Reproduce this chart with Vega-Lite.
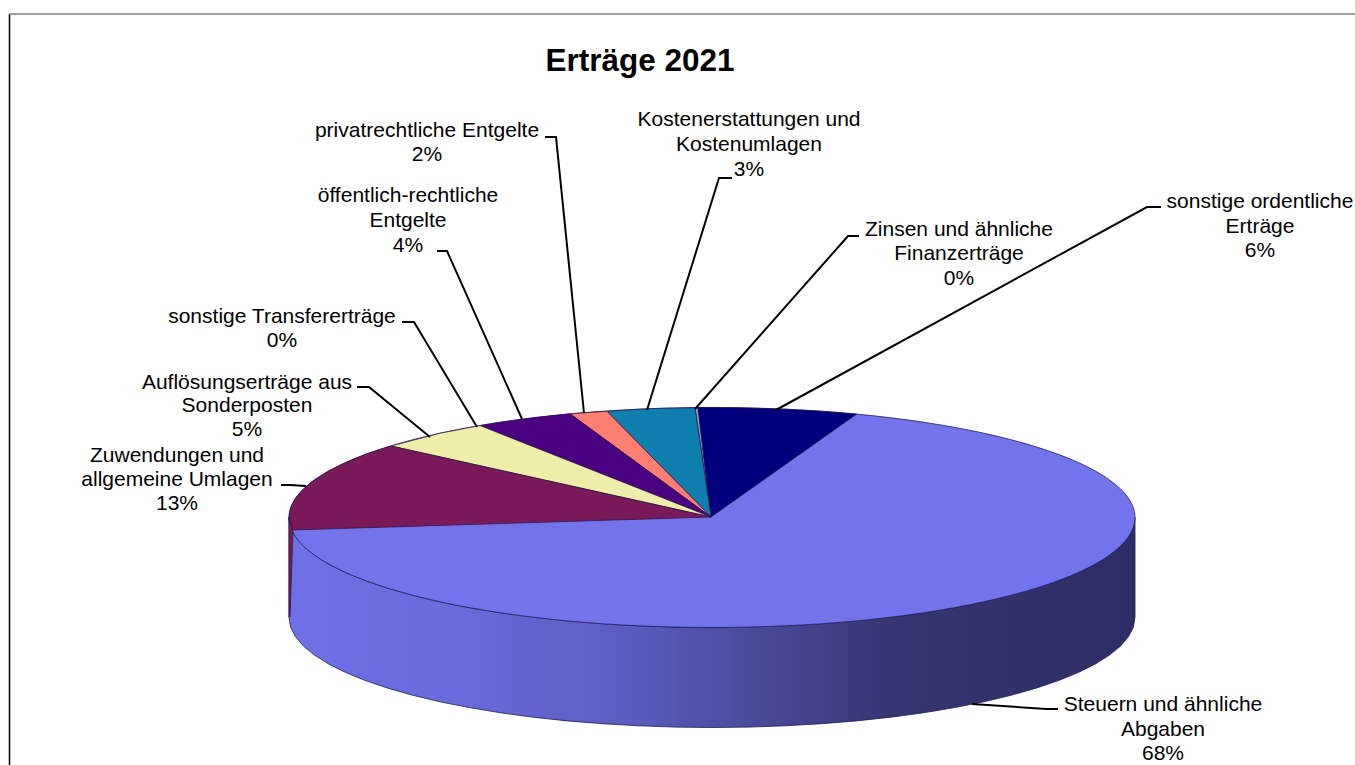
{
"$schema":"https://vega.github.io/schema/vega-lite/v6.json",
"width":1355,"height":765,"padding":0,"autosize":{"type":"none"},
"background":"white",
"config":{"view":{"stroke":null}},
"datasets":{
"side":[{"x":289,"y":517.5,"y2":617.5},{"x":290.6,"y":527.1,"y2":627.1},{"x":295.4,"y":536.6,"y2":636.6},{"x":303.4,"y":546,"y2":646},{"x":314.5,"y":555.1,"y2":655.1},{"x":328.6,"y":564,"y2":664},{"x":345.7,"y":572.5,"y2":672.5},{"x":365.5,"y":580.6,"y2":680.6},{"x":388,"y":588.2,"y2":688.2},{"x":412.9,"y":595.3,"y2":695.3},{"x":440.1,"y":601.8,"y2":701.8},{"x":469.4,"y":607.6,"y2":707.6},{"x":500.5,"y":612.8,"y2":712.8},{"x":533.2,"y":617.2,"y2":717.2},{"x":567.3,"y":620.9,"y2":720.9},{"x":602.5,"y":623.7,"y2":723.7},{"x":638.6,"y":625.8,"y2":725.8},{"x":675.1,"y":627.1,"y2":727.1},{"x":712,"y":627.5,"y2":727.5},{"x":748.9,"y":627.1,"y2":727.1},{"x":785.4,"y":625.8,"y2":725.8},{"x":821.5,"y":623.7,"y2":723.7},{"x":856.7,"y":620.9,"y2":720.9},{"x":890.8,"y":617.2,"y2":717.2},{"x":923.5,"y":612.8,"y2":712.8},{"x":954.6,"y":607.6,"y2":707.6},{"x":983.9,"y":601.8,"y2":701.8},{"x":1011.1,"y":595.3,"y2":695.3},{"x":1036,"y":588.2,"y2":688.2},{"x":1058.5,"y":580.6,"y2":680.6},{"x":1078.3,"y":572.5,"y2":672.5},{"x":1095.4,"y":564,"y2":664},{"x":1109.5,"y":555.1,"y2":655.1},{"x":1120.6,"y":546,"y2":646},{"x":1128.6,"y":536.6,"y2":636.6},{"x":1133.4,"y":527.1,"y2":627.1},{"x":1135,"y":517.5,"y2":617.5}],
"top":[{"i":0,"x":1135,"y":517.5},{"i":1,"x":1128.6,"y":498.4},{"i":2,"x":1109.5,"y":479.9},{"i":3,"x":1078.3,"y":462.5},{"i":4,"x":1036,"y":446.8},{"i":5,"x":983.9,"y":433.2},{"i":6,"x":923.5,"y":422.2},{"i":7,"x":856.7,"y":414.1},{"i":8,"x":785.4,"y":409.2},{"i":9,"x":712,"y":407.5},{"i":10,"x":638.6,"y":409.2},{"i":11,"x":567.3,"y":414.1},{"i":12,"x":500.5,"y":422.2},{"i":13,"x":440.1,"y":433.2},{"i":14,"x":388,"y":446.8},{"i":15,"x":345.7,"y":462.5},{"i":16,"x":314.5,"y":479.9},{"i":17,"x":295.4,"y":498.4},{"i":18,"x":289,"y":517.5},{"i":19,"x":295.4,"y":536.6},{"i":20,"x":314.5,"y":555.1},{"i":21,"x":345.7,"y":572.5},{"i":22,"x":388,"y":588.2},{"i":23,"x":440.1,"y":601.8},{"i":24,"x":500.5,"y":612.8},{"i":25,"x":567.3,"y":620.9},{"i":26,"x":638.6,"y":625.8},{"i":27,"x":712,"y":627.5},{"i":28,"x":785.4,"y":625.8},{"i":29,"x":856.7,"y":620.9},{"i":30,"x":923.5,"y":612.8},{"i":31,"x":983.9,"y":601.8},{"i":32,"x":1036,"y":588.2},{"i":33,"x":1078.3,"y":572.5},{"i":34,"x":1109.5,"y":555.1},{"i":35,"x":1128.6,"y":536.6}],
"slices":[
{"s":"Zinsen","i":0,"x":711,"y":517},{"s":"Zinsen","i":1,"x":698,"y":407.6},{"s":"Zinsen","i":2,"x":695,"y":407.8},{"s":"Zinsen","i":3,"x":711,"y":517},
{"s":"Ordentlich","i":0,"x":711,"y":517},{"s":"Ordentlich","i":1,"x":856.7,"y":414.1},{"s":"Ordentlich","i":2,"x":821,"y":411.2},{"s":"Ordentlich","i":3,"x":785.4,"y":409.2},{"s":"Ordentlich","i":4,"x":748,"y":408},{"s":"Ordentlich","i":5,"x":712,"y":407.5},{"s":"Ordentlich","i":6,"x":698,"y":407.6},{"s":"Ordentlich","i":7,"x":711,"y":517},
{"s":"Kosten","i":0,"x":711,"y":517},{"s":"Kosten","i":1,"x":695,"y":407.8},{"s":"Kosten","i":2,"x":660,"y":408.3},{"s":"Kosten","i":3,"x":638.6,"y":409.2},{"s":"Kosten","i":4,"x":607,"y":411.3},{"s":"Kosten","i":5,"x":711,"y":517},
{"s":"Privat","i":0,"x":711,"y":517},{"s":"Privat","i":1,"x":607,"y":411.3},{"s":"Privat","i":2,"x":570,"y":413.8},{"s":"Privat","i":3,"x":711,"y":517},
{"s":"Oeffentlich","i":0,"x":711,"y":517},{"s":"Oeffentlich","i":1,"x":570,"y":413.8},{"s":"Oeffentlich","i":2,"x":535,"y":417.6},{"s":"Oeffentlich","i":3,"x":500.5,"y":422.2},{"s":"Oeffentlich","i":4,"x":480,"y":425.6},{"s":"Oeffentlich","i":5,"x":711,"y":517},
{"s":"Aufloesung","i":0,"x":711,"y":517},{"s":"Aufloesung","i":1,"x":480,"y":425.6},{"s":"Aufloesung","i":2,"x":440.1,"y":433.2},{"s":"Aufloesung","i":3,"x":391,"y":446},{"s":"Aufloesung","i":4,"x":711,"y":517},
{"s":"Zuwendungen","i":0,"x":711,"y":517},{"s":"Zuwendungen","i":1,"x":391,"y":446},{"s":"Zuwendungen","i":2,"x":366,"y":454},{"s":"Zuwendungen","i":3,"x":345.7,"y":462.5},{"s":"Zuwendungen","i":4,"x":328.6,"y":471},{"s":"Zuwendungen","i":5,"x":314.5,"y":479.9},{"s":"Zuwendungen","i":6,"x":303.4,"y":489},{"s":"Zuwendungen","i":7,"x":295.4,"y":498.4},{"s":"Zuwendungen","i":8,"x":290.6,"y":507.9},{"s":"Zuwendungen","i":9,"x":289,"y":517.5},{"s":"Zuwendungen","i":10,"x":290,"y":524},{"s":"Zuwendungen","i":11,"x":293,"y":530},{"s":"Zuwendungen","i":12,"x":711,"y":517},
{"s":"ZuwendungenSide","i":0,"x":289,"y":517.5},{"s":"ZuwendungenSide","i":1,"x":289,"y":617},{"s":"ZuwendungenSide","i":2,"x":290,"y":617},{"s":"ZuwendungenSide","i":3,"x":293,"y":530},{"s":"ZuwendungenSide","i":4,"x":289,"y":517.5}
],
"leaders":[
{"k":"a","i":0,"x":776,"y":410},{"k":"a","i":1,"x":1147,"y":207},{"k":"a","i":2,"x":1161,"y":207},
{"k":"b","i":0,"x":695,"y":409},{"k":"b","i":1,"x":848,"y":236},{"k":"b","i":2,"x":859,"y":236},
{"k":"c","i":0,"x":647,"y":410},{"k":"c","i":1,"x":719,"y":178},{"k":"c","i":2,"x":732,"y":178},
{"k":"d","i":0,"x":584,"y":413},{"k":"d","i":1,"x":556,"y":137},{"k":"d","i":2,"x":545,"y":137},
{"k":"e","i":0,"x":522,"y":419},{"k":"e","i":1,"x":447,"y":251},{"k":"e","i":2,"x":437,"y":251},
{"k":"f","i":0,"x":477,"y":427},{"k":"f","i":1,"x":414,"y":322},{"k":"f","i":2,"x":402,"y":322},
{"k":"g","i":0,"x":430,"y":437},{"k":"g","i":1,"x":369,"y":387},{"k":"g","i":2,"x":357,"y":387},
{"k":"h","i":0,"x":306,"y":486},{"k":"h","i":1,"x":290,"y":485},{"k":"h","i":2,"x":281,"y":485},
{"k":"i","i":0,"x":972,"y":704},{"k":"i","i":1,"x":1046,"y":709},{"k":"i","i":2,"x":1058,"y":709}
],
"frame":[{"k":"left","i":0,"x":9.5,"y":765},{"k":"left","i":1,"x":9.5,"y":14},{"k":"top","i":0,"x":9,"y":14},{"k":"top","i":1,"x":1355,"y":14}],
"labels":[
{"t":"privatrechtliche Entgelte","x":427,"y":131},{"t":"2%","x":427,"y":155},
{"t":"Kostenerstattungen und","x":749,"y":120},{"t":"Kostenumlagen","x":749,"y":145},{"t":"3%","x":749,"y":170},
{"t":"Zinsen und ähnliche","x":959,"y":230},{"t":"Finanzerträge","x":959,"y":254},{"t":"0%","x":959,"y":279},
{"t":"sonstige ordentliche","x":1260,"y":202},{"t":"Erträge","x":1260,"y":227},{"t":"6%","x":1260,"y":251},
{"t":"öffentlich-rechtliche","x":408,"y":196},{"t":"Entgelte","x":408,"y":221},{"t":"4%","x":408,"y":246},
{"t":"sonstige Transfererträge","x":282,"y":317},{"t":"0%","x":282,"y":341},
{"t":"Auflösungserträge aus","x":247,"y":383},{"t":"Sonderposten","x":247,"y":406},{"t":"5%","x":247,"y":430},
{"t":"Zuwendungen und","x":177,"y":456},{"t":"allgemeine Umlagen","x":177,"y":480},{"t":"13%","x":177,"y":504},
{"t":"Steuern und ähnliche","x":1163,"y":705},{"t":"Abgaben","x":1163,"y":730},{"t":"68%","x":1163,"y":754}
],
"title":[{"t":"Erträge 2021","x":640,"y":62}]
},
"encoding":{
"x":{"field":"x","type":"quantitative","axis":null,"scale":{"domain":[0,1355],"nice":false,"zero":false}},
"y":{"field":"y","type":"quantitative","axis":null,"scale":{"domain":[765,0],"nice":false,"zero":false}}
},
"layer":[
{"data":{"name":"side"},
 "mark":{"type":"area","orient":"vertical","stroke":"#1c1c50","strokeWidth":0.8,"color":{"gradient":"linear","x1":0,"x2":1,"y1":0,"y2":0,"stops":[{"offset":0,"color":"#7070e8"},{"offset":0.2,"color":"#6a6adc"},{"offset":0.4,"color":"#5c5cc0"},{"offset":0.55,"color":"#4a4a9a"},{"offset":0.72,"color":"#35356f"},{"offset":1,"color":"#2e2e66"}]}},
 "encoding":{"y2":{"field":"y2"}}},
{"data":{"name":"top"},
 "mark":{"type":"line","interpolate":"cardinal-closed","fill":"#7373ec","stroke":"#1c1c60","strokeWidth":0.8},
 "encoding":{"order":{"field":"i","type":"quantitative"}}},
{"data":{"name":"slices"},
 "mark":{"type":"line","stroke":"#2a1040","strokeWidth":0.7},
 "encoding":{"detail":{"field":"s"},"order":{"field":"i","type":"quantitative"},
 "fill":{"field":"s","type":"nominal","legend":null,"scale":{"domain":["Zinsen","Ordentlich","Kosten","Privat","Oeffentlich","Aufloesung","Zuwendungen","ZuwendungenSide"],"range":["#8fa0c8","#00007e","#0f7fb0","#ff7f72","#4b0082","#eeeeaa","#7b1a58","#7b1a58"]}}}},
{"data":{"name":"leaders"},
 "mark":{"type":"line","color":"#000000","strokeWidth":2},
 "encoding":{"detail":{"field":"k"},"order":{"field":"i","type":"quantitative"}}},
{"data":{"name":"frame"},
 "mark":{"type":"line","strokeWidth":1.5},
 "encoding":{"order":{"field":"i","type":"quantitative"},"detail":{"field":"k"},
 "color":{"field":"k","type":"nominal","legend":null,"scale":{"domain":["left","top"],"range":["#000000","#808080"]}}}},
{"data":{"name":"labels"},
 "mark":{"type":"text","font":"Liberation Sans","fontSize":21,"align":"center","baseline":"middle","color":"#000000"},
 "encoding":{"text":{"field":"t"}}},
{"data":{"name":"title"},
 "mark":{"type":"text","font":"Liberation Sans","fontSize":31.5,"fontWeight":"bold","align":"center","baseline":"middle","color":"#000000"},
 "encoding":{"text":{"field":"t"}}}
]
}
